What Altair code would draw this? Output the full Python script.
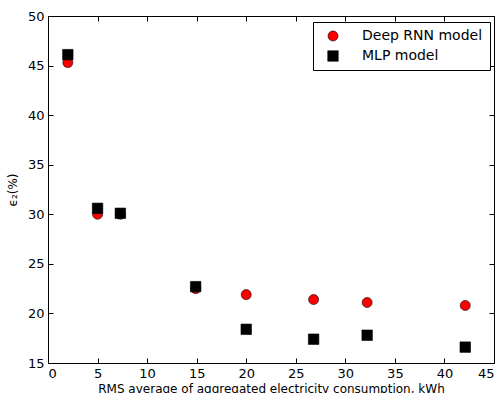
import altair as alt
import pandas as pd

x_vals = [2.0, 5.0, 7.3, 14.9, 20.0, 26.8, 32.2, 42.1]
rnn_vals = [45.3, 30.0, 30.0, 22.5, 21.9, 21.4, 21.1, 20.8]
mlp_vals = [46.1, 30.6, 30.1, 22.7, 18.4, 17.4, 17.8, 16.6]
series = ["Deep RNN model", "MLP model"]
x_ticks = [0, 5, 10, 15, 20, 25, 30, 35, 40, 45]
y_ticks = [15, 20, 25, 30, 35, 40, 45, 50]

rows = []
for xv, yv in zip(x_vals, rnn_vals):
    rows.append({"x": xv, "y": yv, "model": series[0], "ord": 0})
for xv, yv in zip(x_vals, mlp_vals):
    rows.append({"x": xv, "y": yv, "model": series[1], "ord": 1})
df = pd.DataFrame(rows)

W, H = 446, 347
FONT = "DejaVu Sans"
xs = alt.Scale(domain=[0, 45], nice=False, zero=False)
ys = alt.Scale(domain=[15, 50], nice=False, zero=False)

base = alt.Chart(df)

points = base.mark_point(filled=True, stroke="black", strokeWidth=0.6, opacity=1).encode(
    x=alt.X("x:Q", scale=xs, axis=alt.Axis(
        values=x_ticks, title="RMS average of aggregated electricity consumption, kWh",
        ticks=False, domain=False, grid=False, labelPadding=4, titlePadding=3,
        labelFontSize=13, titleFontSize=12, titleFontWeight="normal",
        labelColor="black", titleColor="black", labelFont=FONT, titleFont=FONT)),
    y=alt.Y("y:Q", scale=ys, axis=alt.Axis(
        values=y_ticks, title="ϵ₂(%)", ticks=False, domain=False, grid=False,
        labelPadding=4, titlePadding=8, labelFontSize=13, titleFontSize=12,
        titleFontWeight="normal", labelColor="black", titleColor="black",
        labelFont=FONT, titleFont=FONT)),
    color=alt.Color("model:N", scale=alt.Scale(domain=series, range=["red", "black"]),
                    legend=alt.Legend(title=None)),
    shape=alt.Shape("model:N", scale=alt.Scale(domain=series, range=["circle", "square"]),
                    legend=alt.Legend(title=None)),
    size=alt.Size("model:N", scale=alt.Scale(domain=series, range=[100, 110]), legend=None),
    order=alt.Order("ord:Q"),
)

ticks_in_a = base.mark_point(opacity=0).encode(
    x=alt.X("x:Q", scale=xs, axis=alt.Axis(values=x_ticks, orient="top", offset=-H,
            labels=False, domain=False, grid=False, title=None, tickSize=5,
            tickColor="black")),
    y=alt.Y("y:Q", scale=ys, axis=alt.Axis(values=y_ticks, orient="right", offset=-W,
            labels=False, domain=False, grid=False, title=None, tickSize=5,
            tickColor="black")),
)

ticks_in_b = base.mark_point(opacity=0).encode(
    x=alt.X("x:Q", scale=xs, axis=alt.Axis(values=x_ticks, orient="bottom", offset=-H,
            labels=False, domain=False, grid=False, title=None, tickSize=5,
            tickColor="black")),
    y=alt.Y("y:Q", scale=ys, axis=alt.Axis(values=y_ticks, orient="left", offset=-W,
            labels=False, domain=False, grid=False, title=None, tickSize=5,
            tickColor="black")),
)

chart = alt.layer(points, ticks_in_a, ticks_in_b).resolve_axis(
    x="independent", y="independent"
).properties(
    width=W, height=H,
    autosize=alt.AutoSizeParams(type="none"),
    padding={"left": 48, "top": 16, "right": 10, "bottom": 30},
).configure_view(
    stroke="black", strokeWidth=1
).configure_legend(
    orient="none", legendX=265, legendY=6, strokeColor="black", fillColor="white",
    padding=7, cornerRadius=0, labelFontSize=14, labelFont=FONT, labelColor="black",
    symbolSize=100, symbolStrokeColor="black", symbolStrokeWidth=0.6, rowPadding=6,
    symbolOffset=6, labelOffset=22, labelLimit=300,
)

chart.save("out.html", embed_options={"renderer": "svg", "actions": False})
